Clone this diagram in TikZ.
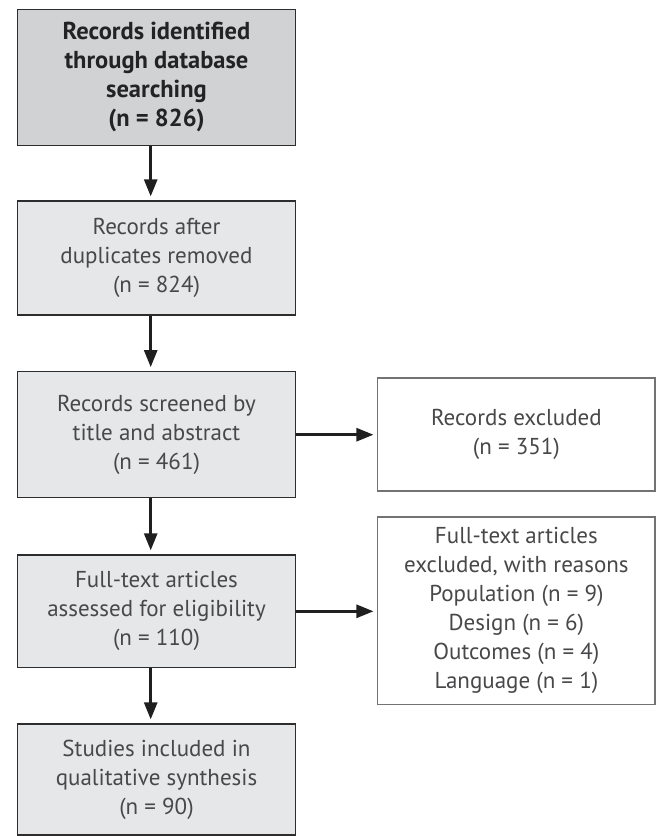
\documentclass[tikz,border=0pt]{standalone}
\usepackage{fontspec}
\setmainfont{PT Sans}
\usetikzlibrary{arrows.meta}
\definecolor{txtcol}{RGB}{72,72,74}
\definecolor{boldcol}{RGB}{35,35,37}
\definecolor{darkfill}{RGB}{209,210,212}
\definecolor{lightfill}{RGB}{230,231,232}
\definecolor{leftborder}{RGB}{45,45,45}
\definecolor{rightborder}{RGB}{115,115,115}
\tikzset{
  leftbox/.style={draw=leftborder, line width=1.2pt, fill=lightfill, minimum width=278.4pt,
    inner sep=0pt, align=center, text=txtcol, font=\fontsize{23}{29}\selectfont},
  topbox/.style={leftbox, fill=darkfill, text=boldcol, font=\fontsize{24.5}{29}\selectfont\bfseries},
  rightbox/.style={draw=rightborder, line width=1.2pt, fill=white, minimum width=277.3pt,
    inner sep=0pt, align=center, text=txtcol, font=\fontsize{23}{29}\selectfont},
  arr/.style={line width=2.7pt, draw=black!88, -{Triangle[length=17pt,width=13pt]}}
}
\begin{document}
\begin{tikzpicture}[x=1pt,y=-1pt]
\useasboundingbox (0,0) rectangle (660,836);
\node[topbox, minimum height=136pt] (b1) at (156.5,77.2) {Records identified\\through database\\searching\\(n = 826)};
\node[leftbox, minimum height=114pt] (b2) at (156.5,258) {Records after\\duplicates removed\\(n = 824)};
\node[leftbox, minimum height=126pt] (b3) at (156.5,434.7) {Records screened by\\title and abstract\\(n = 461)};
\node[leftbox, minimum height=112.7pt] (b4) at (156.5,611.3) {Full-text articles\\assessed for eligibility\\(n = 110)};
\node[leftbox, minimum height=111pt] (b5) at (156.5,779.5) {Studies included in\\qualitative synthesis\\(n = 90)};
\node[rightbox, minimum height=113pt] (r1) at (516.4,434.5) {Records excluded\\(n = 351)};
\node[rightbox, minimum height=187.5pt] (r2) at (516.4,610.8) {Full-text articles\\excluded, with reasons\\Population (n = 9)\\Design (n = 6)\\Outcomes (n = 4)\\Language (n = 1)};
\draw[arr, shorten >=4pt] ([xshift=-5.8pt]b1.south) -- ([xshift=-5.8pt]b2.north);
\draw[arr, shorten >=4pt] ([xshift=-5.8pt]b2.south) -- ([xshift=-5.8pt]b3.north);
\draw[arr, shorten >=4pt] ([xshift=-5.8pt]b3.south) -- ([xshift=-5.8pt]b4.north);
\draw[arr, shorten >=4pt] ([xshift=-5.8pt]b4.south) -- ([xshift=-5.8pt]b5.north);
\draw[arr, shorten >=3.7pt] (b3.east) -- (b3.east -| r1.west);
\draw[arr, shorten >=3.7pt] (b4.east) -- (b4.east -| r2.west);
\end{tikzpicture}
\end{document}
